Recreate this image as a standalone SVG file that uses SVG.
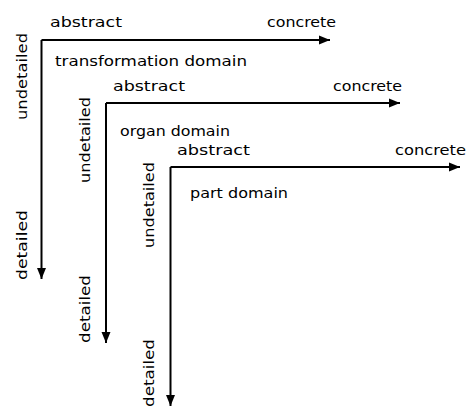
<svg xmlns="http://www.w3.org/2000/svg" width="469" height="406" viewBox="0 0 469 406">
<style>
text{font-family:"DejaVu Sans","Liberation Sans",sans-serif;font-size:14px;fill:#000}
.ax{stroke:#000;stroke-width:2;fill:none}
</style>
<defs>
<marker id="ah" markerUnits="userSpaceOnUse" markerWidth="12" markerHeight="10" refX="11" refY="5" orient="auto">
<path d="M0,0.5 L11,5 L0,9.5 z" fill="#000"/>
</marker>
</defs>
<rect width="469" height="406" fill="#fff"/>
<g id="connectors">
<path class="ax" d="M41.5,40 H330" marker-end="url(#ah)"/>
<path class="ax" d="M41.5,40 V279" marker-end="url(#ah)"/>
<path class="ax" d="M106,103 H400" marker-end="url(#ah)"/>
<path class="ax" d="M106,103 V343" marker-end="url(#ah)"/>
<path class="ax" d="M170.5,167 H460" marker-end="url(#ah)"/>
<path class="ax" d="M170.5,167 V406" marker-end="url(#ah)"/>
</g>
<g id="transformation-domain">
<text x="50" y="27" textLength="72" lengthAdjust="spacingAndGlyphs">abstract</text>
<text x="267" y="27" textLength="69" lengthAdjust="spacingAndGlyphs">concrete</text>
<text x="55" y="66" textLength="192" lengthAdjust="spacingAndGlyphs">transformation domain</text>
<text transform="translate(27,120) rotate(-90)" textLength="87" lengthAdjust="spacingAndGlyphs">undetailed</text>
<text transform="translate(27,280) rotate(-90)" textLength="70" lengthAdjust="spacingAndGlyphs">detailed</text>
</g>
<g id="organ-domain">
<text x="113" y="91" textLength="72" lengthAdjust="spacingAndGlyphs">abstract</text>
<text x="333" y="91" textLength="69" lengthAdjust="spacingAndGlyphs">concrete</text>
<text x="120" y="136" textLength="110" lengthAdjust="spacingAndGlyphs">organ domain</text>
<text transform="translate(90,183) rotate(-90)" textLength="86" lengthAdjust="spacingAndGlyphs">undetailed</text>
<text transform="translate(90,343) rotate(-90)" textLength="68" lengthAdjust="spacingAndGlyphs">detailed</text>
</g>
<g id="part-domain">
<text x="177" y="155" textLength="73" lengthAdjust="spacingAndGlyphs">abstract</text>
<text x="395" y="155" textLength="71" lengthAdjust="spacingAndGlyphs">concrete</text>
<text x="190" y="198" textLength="98" lengthAdjust="spacingAndGlyphs">part domain</text>
<text transform="translate(154,248) rotate(-90)" textLength="86" lengthAdjust="spacingAndGlyphs">undetailed</text>
<text transform="translate(154,407) rotate(-90)" textLength="68" lengthAdjust="spacingAndGlyphs">detailed</text>
</g>
</svg>
